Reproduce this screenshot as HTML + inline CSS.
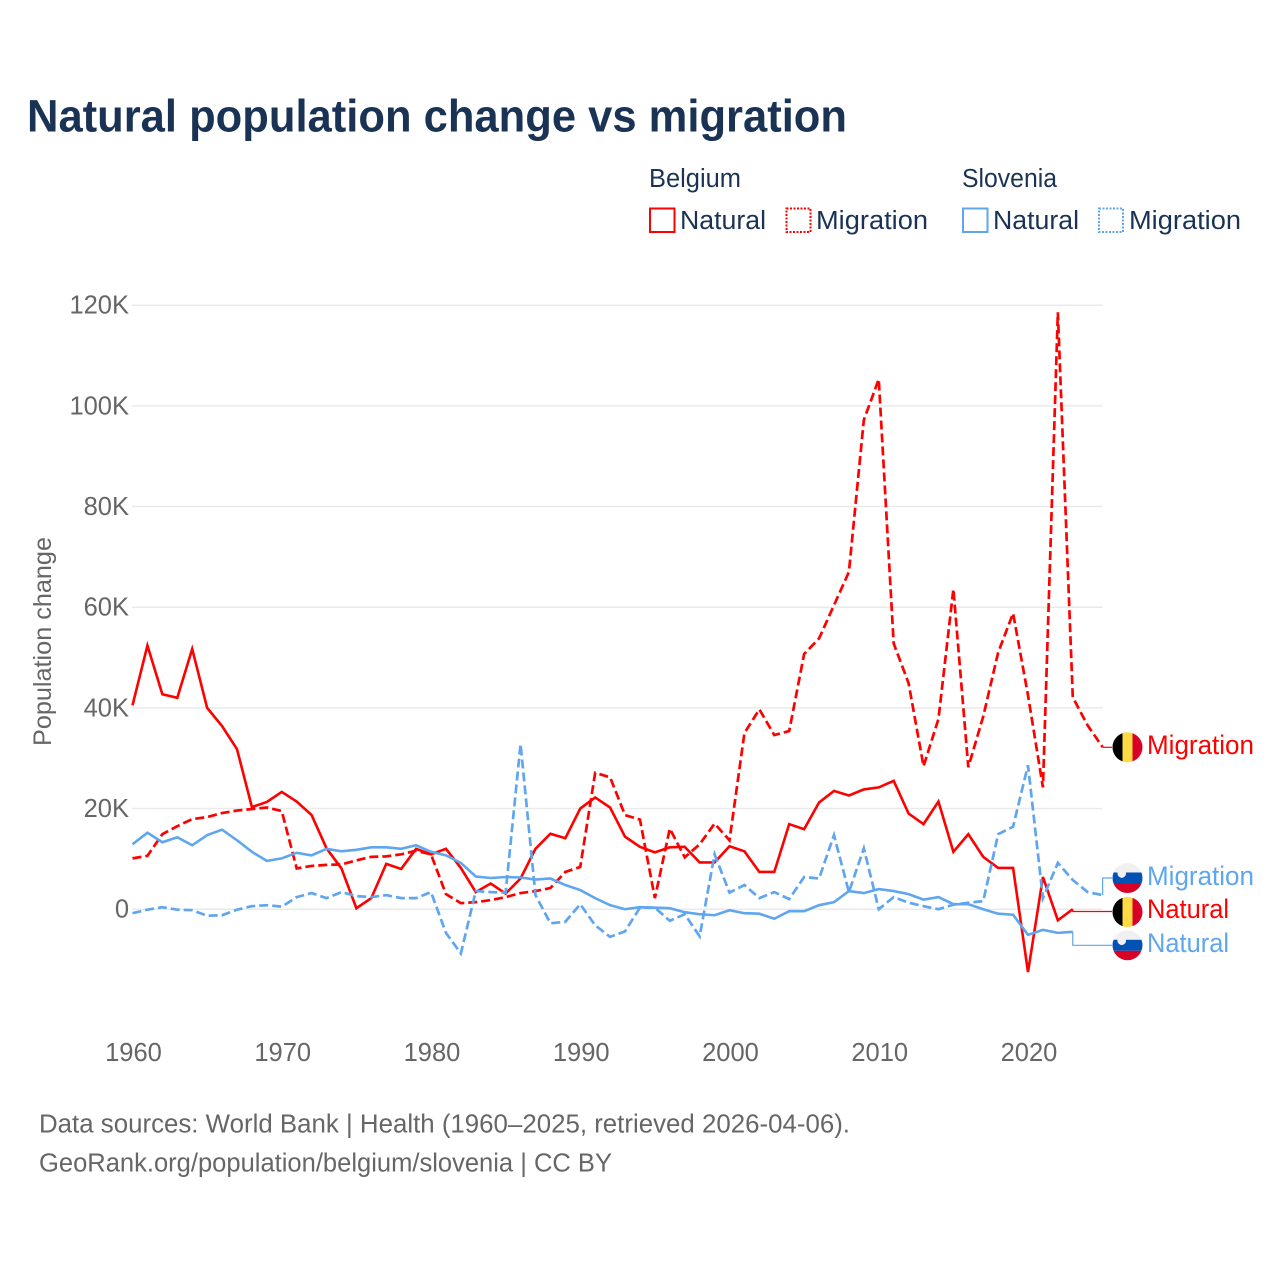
<!DOCTYPE html>
<html lang="en">
<head>
<meta charset="utf-8">
<title>Natural population change vs migration</title>
<style>
html,body{margin:0;padding:0;background:#fff;}
svg{display:block;}
text{font-family:"Liberation Sans",sans-serif;}
</style>
</head>
<body>
<svg id="chart" xmlns="http://www.w3.org/2000/svg" width="1280" height="1280" viewBox="0 0 1280 1280">
  <rect width="1280" height="1280" fill="#fff"/>
  <text x="27" y="131.5" font-size="45" font-weight="700" fill="#1a3354" textLength="820" lengthAdjust="spacingAndGlyphs">Natural population change vs migration</text>

  <g fill="#1a3354" font-size="25.5">
    <text x="649" y="187" textLength="92" lengthAdjust="spacingAndGlyphs">Belgium</text>
    <text x="962" y="187" textLength="95" lengthAdjust="spacingAndGlyphs">Slovenia</text>
    <rect x="650" y="208.5" width="24.5" height="23.5" fill="none" stroke="#ff0000" stroke-width="2"/>
    <text x="680" y="229" textLength="86" lengthAdjust="spacingAndGlyphs">Natural</text>
    <rect x="786.5" y="208.5" width="24" height="23.5" fill="none" stroke="#ff0000" stroke-width="2" stroke-dasharray="2 1.5"/>
    <text x="816" y="229" textLength="112" lengthAdjust="spacingAndGlyphs">Migration</text>
    <rect x="963" y="208.5" width="24.5" height="23.5" fill="none" stroke="#5fa6ef" stroke-width="2"/>
    <text x="993" y="229" textLength="86" lengthAdjust="spacingAndGlyphs">Natural</text>
    <rect x="1099" y="208.5" width="24" height="23.5" fill="none" stroke="#5fa6ef" stroke-width="2" stroke-dasharray="2 1.5"/>
    <text x="1129" y="229" textLength="112" lengthAdjust="spacingAndGlyphs">Migration</text>
  </g>

  <text transform="translate(51 641.5) rotate(-90)" text-anchor="middle" font-size="25" fill="#666" textLength="209" lengthAdjust="spacingAndGlyphs">Population change</text>

  <g id="grid"></g>
  <g id="yticks"></g>
  <g id="xticks"></g>
  <g id="leaders"></g>
  <g id="series"></g>

  <defs>
    <clipPath id="flag-clip-1"><circle cx="1127.5" cy="747.3" r="15"/></clipPath>
    <clipPath id="flag-clip-2"><circle cx="1127.5" cy="878" r="15"/></clipPath>
    <clipPath id="flag-clip-3"><circle cx="1127.5" cy="912" r="15"/></clipPath>
    <clipPath id="flag-clip-4"><circle cx="1127.5" cy="945.3" r="15"/></clipPath>
  </defs>

  <g clip-path="url(#flag-clip-1)">
    <rect x="1112" y="732" width="10.5" height="31" fill="#000"/>
    <rect x="1122.5" y="732" width="10" height="31" fill="#ffda44"/>
    <rect x="1132.5" y="732" width="10.5" height="31" fill="#d80027"/>
  </g>
  <g clip-path="url(#flag-clip-2)">
    <rect x="1112" y="863" width="31" height="10" fill="#f0f0f0"/>
    <rect x="1112" y="872.5" width="31" height="11" fill="#0052b4"/>
    <rect x="1112" y="883.5" width="31" height="10" fill="#d80027"/>
    <path d="M1117.5 868.5h8.5v5.5q0 2.500-4.250 4q-4.250-1.500-4.250-4z" fill="#f0f0f0"/>
  </g>
  <g clip-path="url(#flag-clip-3)">
    <rect x="1112" y="896" width="10.5" height="32" fill="#000"/>
    <rect x="1122.5" y="896" width="10" height="32" fill="#ffda44"/>
    <rect x="1132.5" y="896" width="10.5" height="32" fill="#d80027"/>
  </g>
  <g clip-path="url(#flag-clip-4)">
    <rect x="1112" y="930" width="31" height="10" fill="#f0f0f0"/>
    <rect x="1112" y="939.8" width="31" height="11" fill="#0052b4"/>
    <rect x="1112" y="950.8" width="31" height="10" fill="#d80027"/>
    <path d="M1117.5 935.8h8.5v5.500q0 2.500-4.250 4q-4.250-1.500-4.250-4z" fill="#f0f0f0"/>
  </g>

  <g font-size="26.5">
    <text x="1147" y="754" fill="#ff0000" textLength="107" lengthAdjust="spacingAndGlyphs">Migration</text>
    <text x="1147" y="885" fill="#5fa6ef" textLength="107" lengthAdjust="spacingAndGlyphs">Migration</text>
    <text x="1147" y="918" fill="#ff0000" textLength="82" lengthAdjust="spacingAndGlyphs">Natural</text>
    <text x="1147" y="952" fill="#5fa6ef" textLength="82" lengthAdjust="spacingAndGlyphs">Natural</text>
  </g>

  <g font-size="25.5" fill="#666">
    <text x="39" y="1132.5" textLength="811" lengthAdjust="spacingAndGlyphs">Data sources: World Bank | Health (1960–2025, retrieved 2026-04-06).</text>
    <text x="39" y="1171.5" textLength="573" lengthAdjust="spacingAndGlyphs">GeoRank.org/population/belgium/slovenia | CC BY</text>
  </g>
</svg>

<script>
// Values in thousands of people
const firstYear = 1960;
const yTickValues = [0, 20, 40, 60, 80, 100, 120];
const yTickLabels = ['0', '20K', '40K', '60K', '80K', '100K', '120K'];
const xTickYears = [1960, 1970, 1980, 1990, 2000, 2010, 2020];

// 1960–2023
const belgiumNatural = [
  40.5, 52.4, 42.7, 42.0, 51.7, 40.0, 36.4, 31.8, 20.3, 21.3,
  23.3, 21.4, 18.7, 12.1, 8.1, 0.2, 2.2, 9.0, 8.0, 12.0,
  10.9, 12.0, 8.2, 3.4, 5.1, 3.1, 6.1, 12.0, 15.0, 14.1,
  20.0, 22.2, 20.2, 14.4, 12.4, 11.3, 12.3, 12.4, 9.3, 9.3,
  12.5, 11.5, 7.4, 7.4, 16.9, 15.9, 21.2, 23.5, 22.6, 23.8,
  24.2, 25.5, 19.0, 16.9, 21.4, 11.4, 14.9, 10.4, 8.2, 8.2,
  -12.5, 6.4, -2.2, 0.0
];
// 1960–2025
const belgiumMigration = [
  10.1, 10.6, 14.9, 16.5, 17.9, 18.3, 19.1, 19.6, 19.9, 20.2,
  19.5, 8.1, 8.6, 8.8, 8.9, 9.7, 10.4, 10.5, 10.9, 11.6,
  10.9, 3.0, 1.2, 1.4, 1.8, 2.4, 3.2, 3.6, 4.2, 7.4,
  8.4, 27.1, 26.2, 18.7, 17.8, 2.2, 16.0, 10.3, 12.9, 17.0,
  13.7, 35.0, 39.7, 34.6, 35.4, 50.7, 53.8, 60.4, 67.0, 97.2,
  105.3, 52.8, 44.9, 28.4, 37.8, 63.6, 28.2, 38.3, 51.0, 58.8,
  42.5, 24.2, 118.6, 42.1, 36.5, 32.2
];
// 1960–2023
const sloveniaNatural = [
  12.9, 15.2, 13.3, 14.3, 12.7, 14.7, 15.8, 13.7, 11.4, 9.6,
  10.1, 11.2, 10.7, 12.0, 11.5, 11.8, 12.3, 12.3, 12.0, 12.7,
  11.4, 10.7, 9.2, 6.5, 6.2, 6.4, 6.3, 5.9, 6.1, 4.8,
  3.8, 2.2, 0.8, 0.0, 0.4, 0.3, 0.2, -0.6, -1.0, -1.2,
  -0.2, -0.8, -0.9, -1.9, -0.4, -0.4, 0.8, 1.4, 3.6, 3.2,
  4.0, 3.6, 3.0, 1.9, 2.4, 1.0, 1.0, 0.0, -0.9, -1.1,
  -5.1, -4.1, -4.7, -4.5
];
// 1960–2025
const sloveniaMigration = [
  -0.8, -0.1, 0.4, -0.1, -0.2, -1.3, -1.2, -0.1, 0.6, 0.8,
  0.5, 2.4, 3.2, 2.2, 3.4, 2.6, 2.4, 2.8, 2.2, 2.2,
  3.4, -4.7, -8.8, 3.6, 3.4, 3.3, 32.8, 2.8, -2.8, -2.5,
  1.0, -3.2, -5.5, -4.4, 0.3, 0.3, -2.3, -1.0, -5.4, 10.9,
  3.3, 4.8, 2.2, 3.4, 2.0, 6.4, 6.1, 14.7, 3.4, 12.1,
  0.0, 2.4, 1.3, 0.6, 0.0, 0.9, 1.3, 1.6, 14.9, 16.4,
  28.6, 2.2, 9.2, 5.8, 3.4, 2.8
];

const SVG_NS = 'http://www.w3.org/2000/svg';
const RED = '#ff0000';
const BLUE = '#5fa6ef';
const xScale = function (year) { return 132.5 + (year - 1960) * 14.925; };
const yScale = function (v) { return 909.2 - v * 5.033; };

function make(tag, parent, attrs) {
  const el = document.createElementNS(SVG_NS, tag);
  Object.keys(attrs).forEach(function (k) { el.setAttribute(k, attrs[k]); });
  parent.appendChild(el);
  return el;
}

const gridG = document.getElementById('grid');
const yG = document.getElementById('yticks');
const xG = document.getElementById('xticks');
const leaderG = document.getElementById('leaders');
const seriesG = document.getElementById('series');

yTickValues.forEach(function (v, i) {
  const line = make('line', gridG, { x1: 132, x2: 1102.5, y1: yScale(v), y2: yScale(v), stroke: '#eaeaea', 'stroke-width': 1.5 });
  
  
  const t = make('text', yG, { x: 129, y: yScale(v) + 8.5, 'text-anchor': 'end', 'font-size': 25.5, fill: '#666' });
  t.textContent = yTickLabels[i];
  
  
});

xTickYears.forEach(function (yr) {
  const t = make('text', xG, { x: xScale(yr) + 1, y: 1061, 'text-anchor': 'middle', 'font-size': 25.5, fill: '#666' });
  t.textContent = String(yr);
  
  
});

function pathFor(values) {
  return values.map(function (v, i) {
    return (i ? 'L' : 'M') + xScale(firstYear + i).toFixed(2) + ' ' + yScale(v).toFixed(2);
  }).join(' ');
}

// Thin elbow connecting a series end to its flag at slotY
function drawLeader(values, color, slotY, name) {
  const i = values.length - 1;
  const x = xScale(firstYear + i);
  const y = yScale(values[i]);
  const d = Math.abs(y - slotY) > 1.5
    ? 'M' + x + ' ' + y + ' V' + slotY + ' H1112'
    : 'M' + x + ' ' + slotY + ' H1112';
  const p = make('path', leaderG, { d: d, fill: 'none', stroke: color, 'stroke-width': 1.2 });
  
  
}
drawLeader(belgiumMigration, RED, 747.3, 'leader-belgium-migration');
drawLeader(sloveniaMigration, BLUE, 878, 'leader-slovenia-migration');
drawLeader(belgiumNatural, RED, 911.5, 'leader-belgium-natural');
drawLeader(sloveniaNatural, BLUE, 945.3, 'leader-slovenia-natural');

const lineBN = make('path', seriesG, { d: pathFor(belgiumNatural), fill: 'none', stroke: RED, 'stroke-width': 2.6 });



const lineBM = make('path', seriesG, { d: pathFor(belgiumMigration), fill: 'none', stroke: RED, 'stroke-width': 2.7, 'stroke-dasharray': '9 4' });



const lineSN = make('path', seriesG, { d: pathFor(sloveniaNatural), fill: 'none', stroke: BLUE, 'stroke-width': 2.6 });



const lineSM = make('path', seriesG, { d: pathFor(sloveniaMigration), fill: 'none', stroke: BLUE, 'stroke-width': 2.7, 'stroke-dasharray': '9 4' });


</script>
</body>
</html>
